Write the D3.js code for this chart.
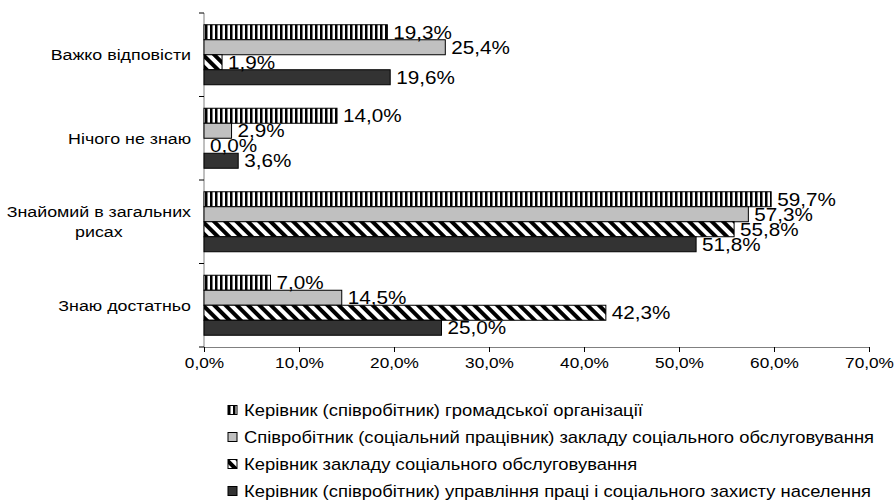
<!DOCTYPE html>
<html>
<head>
<meta charset="utf-8">
<script src="https://cdn.jsdelivr.net/npm/d3@7"></script>
<style>
  body { margin: 0; background: #fff; }
  svg { display: block; font-family: "Liberation Sans", Arial, sans-serif; }
</style>
</head>
<body>
<div id="chart"></div>
<script>
(function(d3){
  'use strict';

  // categories top to bottom
  var categories = ['Важко відповісти', 'Нічого не знаю', 'Знайомий в загальних рисах', 'Знаю достатньо'];
  var seriesNames = [
    'Керівник (співробітник) громадської організації',
    'Співробітник (соціальний працівник) закладу соціального обслуговування',
    'Керівник закладу соціального обслуговування',
    'Керівник (співробітник) управління праці і соціального захисту населення'
  ];
  var gromadska = [19.3, 14.0, 59.7, 7.0];
  var spivrobitnyk = [25.4, 2.9, 57.3, 14.5];
  var kerivnykZakladu = [1.9, 0.0, 55.8, 42.3];
  var upravlinnia = [19.6, 3.6, 51.8, 25.0];
  var series = [gromadska, spivrobitnyk, kerivnykZakladu, upravlinnia];
  var tickValues = [0, 10, 20, 30, 40, 50, 60, 70];

  var width = 894, height = 502;
  var sx = 1.15; // picture is a bit stretched sideways

  var svg = d3.select('#chart').append('svg')
    .attr('width', width)
    .attr('height', height);

  var defs = svg.append('defs');

  var vs = defs.append('pattern')
    .attr('id', 'vstripe')
    .attr('patternUnits', 'userSpaceOnUse')
    .attr('width', 5).attr('height', 5);
  vs.append('rect').attr('width', 5).attr('height', 5).attr('fill', '#fff');
  vs.append('rect').attr('width', 2.5).attr('height', 5).attr('fill', '#000');

  var dg = defs.append('pattern')
    .attr('id', 'diag')
    .attr('patternUnits', 'userSpaceOnUse')
    .attr('width', 8).attr('height', 8)
    .attr('patternTransform', 'rotate(-45)');
  dg.append('rect').attr('width', 8).attr('height', 8).attr('fill', '#fff');
  dg.append('rect').attr('width', 4).attr('height', 8).attr('fill', '#000');

  var fills = ['url(#vstripe)', '#c0c0c0', 'url(#diag)', '#333333'];

  var x = d3.scaleLinear().domain([0, 70]).range([204, 869]);
  var y = d3.scaleBand().domain(categories).range([13, 347]);
  var pad = 11.75;
  var yInner = d3.scaleBand().domain(d3.range(series.length))
    .range([pad, y.bandwidth() - pad]);

  // x axis
  var xAxis = svg.append('g')
    .attr('transform', 'translate(0,347)')
    .call(d3.axisBottom(x)
      .tickValues(tickValues)
      .tickSize(5)
      .tickSizeOuter(0)
      .tickFormat(function(d){ return d.toFixed(1).replace('.', ',') + '%'; }));
  xAxis.select('.domain').attr('stroke', '#808080');
  xAxis.selectAll('.tick line').attr('stroke', '#000');
  xAxis.selectAll('.tick text')
    .attr('font-size', 15)
    .attr('fill', '#000')
    .attr('font-family', '"Liberation Sans", Arial, sans-serif')
    .attr('y', 10)
    .attr('transform', 'scale(' + sx + ',1)');

  // y axis
  var yAxis = svg.append('g');
  yAxis.append('line')
    .attr('x1', x(0)).attr('x2', x(0))
    .attr('y1', y.range()[0]).attr('y2', y.range()[1])
    .attr('stroke', '#808080');
  yAxis.selectAll('line.tk')
    .data(categories.map(function(c){ return y(c); }).concat([y.range()[1]]))
    .enter().append('line')
    .attr('class', 'tk')
    .attr('x1', x(0) - 5).attr('x2', x(0))
    .attr('y1', function(d){ return d; })
    .attr('y2', function(d){ return d; })
    .attr('stroke', '#000');

  // bars
  var groups = svg.selectAll('g.cat')
    .data(categories)
    .enter().append('g')
    .attr('class', 'cat')
    .attr('transform', function(c){ return 'translate(0,' + y(c) + ')'; });

  groups.each(function(c, ci){
    var g = d3.select(this);
    series.forEach(function(s, si){
      var v = s[ci];
      g.append('rect')
        .attr('x', x(0))
        .attr('y', yInner(si))
        .attr('width', x(v) - x(0))
        .attr('height', yInner.bandwidth())
        .attr('fill', fills[si])
        .attr('stroke', '#000')
        .attr('stroke-width', 1);
    });
    series.forEach(function(s, si){
      var v = s[ci];
      g.append('g')
        .attr('transform', 'translate(' + (x(v) + 6) + ',' + (yInner(si) + yInner.bandwidth() / 2) + ') scale(' + sx + ',1)')
        .append('text')
        .attr('dy', '0.36em')
        .attr('font-size', 18)
        .text(v.toFixed(1).replace('.', ',') + '%');
    });
  });

  // category labels, wrapped like excel does
  var wrapped = {'Знайомий в загальних рисах': ['Знайомий в загальних', 'рисах']};
  categories.forEach(function(c){
    var cy = y(c) + y.bandwidth() / 2;
    var lbl = svg.append('g')
      .attr('transform', 'translate(191,' + cy + ') scale(' + sx + ',1)');
    var lines = wrapped[c] || [c];
    if (lines.length === 1) {
      lbl.append('text')
        .attr('text-anchor', 'end')
        .attr('dy', '0.36em')
        .attr('font-size', 15.5)
        .text(c);
    } else {
      var first = lbl.append('text')
        .attr('text-anchor', 'end')
        .attr('y', -10)
        .attr('dy', '0.36em')
        .attr('font-size', 15.5)
        .text(lines[0]);
      var w = first.node().getComputedTextLength();
      lbl.append('text')
        .attr('text-anchor', 'middle')
        .attr('x', -w / 2)
        .attr('y', 10)
        .attr('dy', '0.36em')
        .attr('font-size', 15.5)
        .text(lines[1]);
    }
  });

  // legend
  var legend = svg.selectAll('g.legend')
    .data(seriesNames)
    .enter().append('g')
    .attr('class', 'legend')
    .attr('transform', function(d, i){ return 'translate(228,' + (410 + i * 27) + ')'; });
  legend.append('rect')
    .attr('x', 0).attr('y', -4.5)
    .attr('width', 9).attr('height', 9)
    .attr('fill', function(d, i){ return fills[i]; })
    .attr('stroke', '#000');
  legend.append('g')
    .attr('transform', 'translate(16,0) scale(' + sx + ',1)')
    .append('text')
    .attr('dy', '0.36em')
    .attr('font-size', 16)
    .text(function(d){ return d; });

})(window.d3);
</script>
</body>
</html>
